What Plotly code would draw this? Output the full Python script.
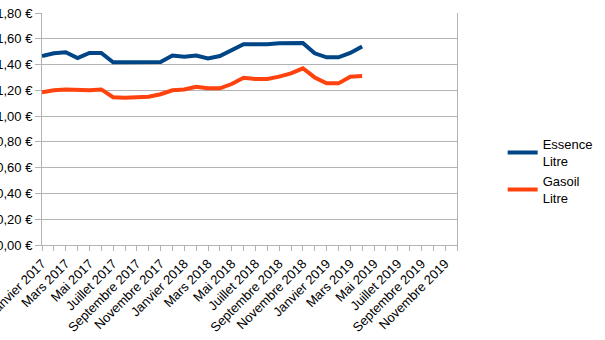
import plotly.graph_objects as go

mois = ["Janvier", "Février", "Mars", "Avril", "Mai", "Juin", "Juillet", "Août",
        "Septembre", "Octobre", "Novembre", "Décembre"]
categories = [f"{m} {a}" for a in (2017, 2018, 2019) for m in mois]
tick_labels = [c if i % 2 == 0 else "" for i, c in enumerate(categories)]

essence = [1.466, 1.487, 1.495, 1.45, 1.49, 1.49, 1.417, 1.417, 1.42, 1.42,
           1.42, 1.47, 1.46, 1.47, 1.448, 1.466, 1.51, 1.557, 1.557, 1.557,
           1.565, 1.565, 1.567, 1.487, 1.456, 1.456, 1.49, 1.54]
gasoil = [1.185, 1.20, 1.207, 1.20, 1.20, 1.207, 1.146, 1.143, 1.146, 1.15,
          1.17, 1.20, 1.207, 1.228, 1.216, 1.216, 1.249, 1.298, 1.288, 1.288,
          1.306, 1.332, 1.371, 1.30, 1.254, 1.254, 1.306, 1.311]

font = "Liberation Sans, Arial, sans-serif"
grid = "#b3b3b3"

fig = go.Figure()
fig.add_trace(go.Scatter(x=categories[:len(essence)], y=essence, mode="lines",
                         name="Essence<br>Litre", line=dict(color="#004586", width=4)))
fig.add_trace(go.Scatter(x=categories[:len(gasoil)], y=gasoil, mode="lines",
                         name="Gasoil<br>Litre", line=dict(color="#ff420e", width=4)))

fig.update_layout(
    width=605, height=340,
    margin=dict(l=42, r=148, t=13, b=95, autoexpand=False),
    paper_bgcolor="white", plot_bgcolor="white",
    separators=", ",
    font=dict(family=font, size=13, color="black"),
    legend=dict(x=1.11, xanchor="left", y=0.318, yanchor="middle",
                font=dict(size=13), bgcolor="rgba(0,0,0,0)", tracegroupgap=6),
    xaxis=dict(type="category", categoryorder="array", categoryarray=categories,
               range=[0, len(categories) - 1], tickmode="array",
               tickvals=categories, ticktext=tick_labels, tickangle=-45,
               showgrid=False, showline=True, linecolor=grid, linewidth=1,
               ticks="outside", ticklen=5, tickcolor=grid, automargin=False,
               tickfont=dict(size=13)),
    yaxis=dict(range=[0, 1.8], dtick=0.2, tickformat=".2f", ticksuffix=" €",
               showgrid=True, gridcolor=grid, gridwidth=1, zeroline=False,
               showline=True, linecolor=grid, linewidth=1, mirror=True,
               ticks="outside", ticklen=6, tickcolor=grid, automargin=False,
               tickfont=dict(size=13)),
)

fig.write_html("out.html")
